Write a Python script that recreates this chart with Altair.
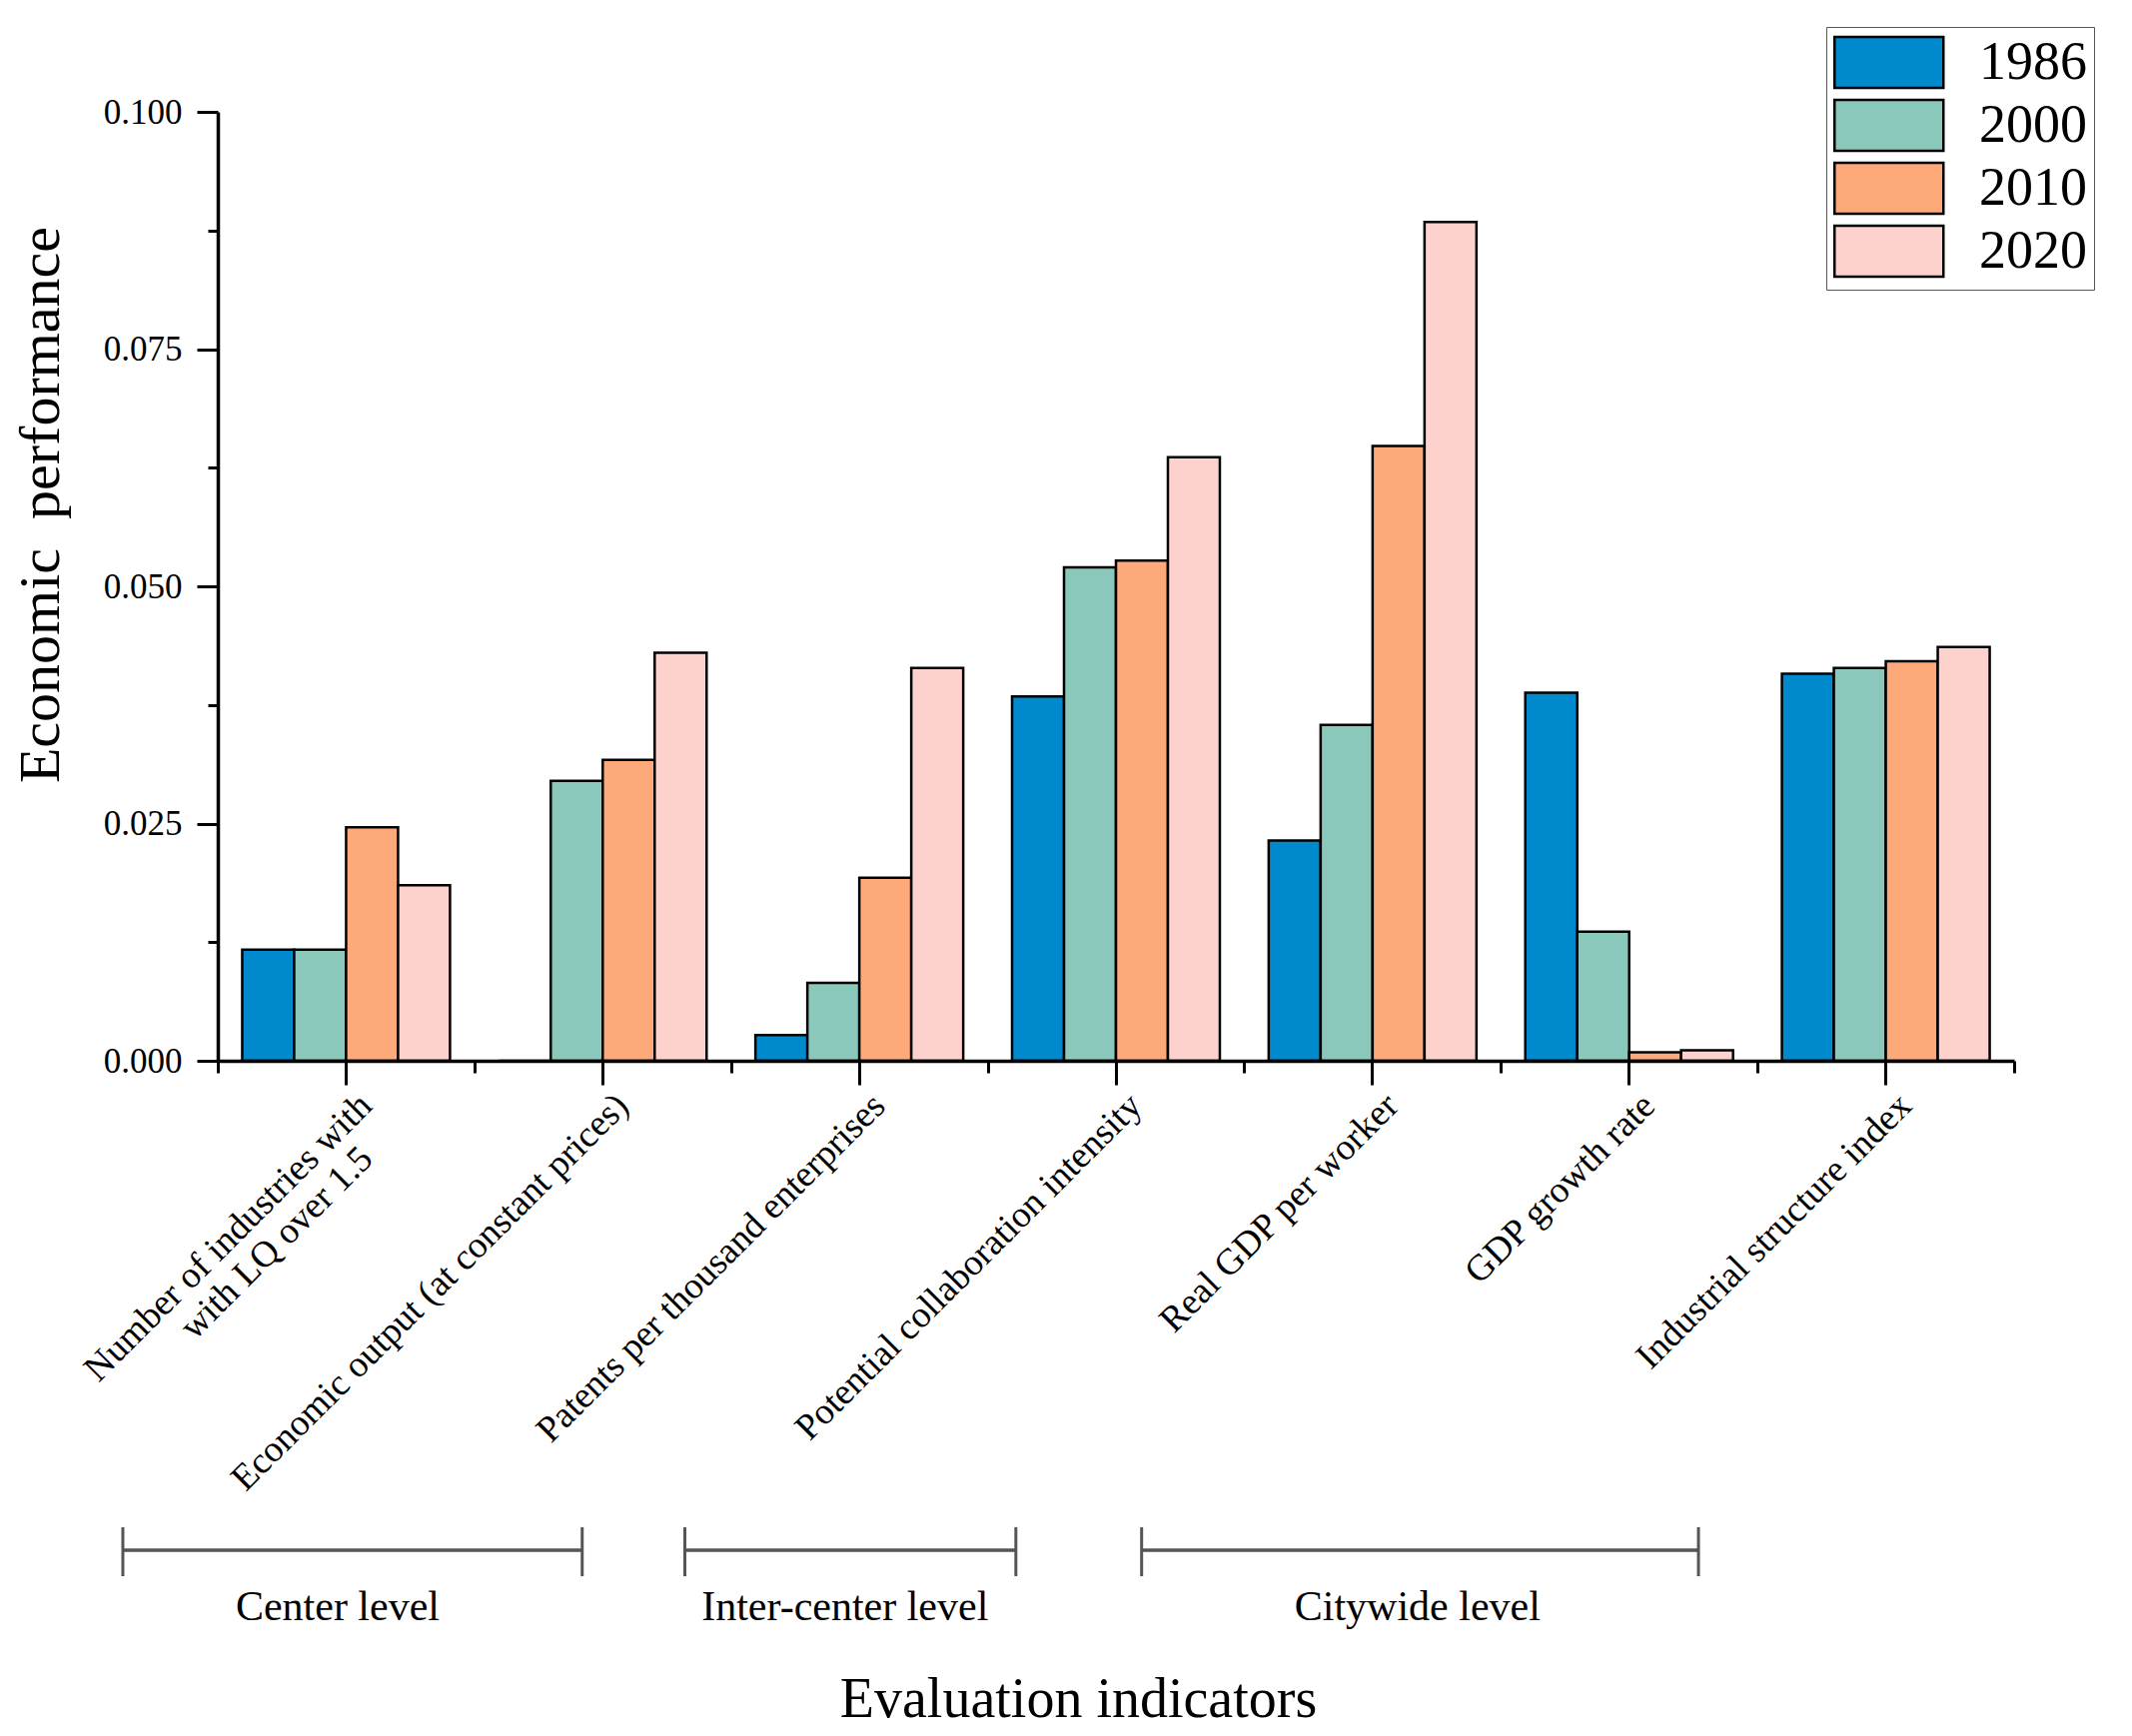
import altair as alt
import pandas as pd

# ---------------- data ----------------
categories = [
    "Number of industries with with LQ over 1.5",
    "Economic output (at constant prices)",
    "Patents per thousand enterprises",
    "Potential collaboration intensity",
    "Real GDP per worker",
    "GDP growth rate",
    "Industrial structure index",
]
years = ["1986", "2000", "2010", "2020"]
v1986 = [0.0117, 0.0000, 0.0027, 0.0384, 0.0232, 0.0388, 0.0408]
v2000 = [0.0117, 0.0295, 0.0082, 0.0520, 0.0354, 0.0136, 0.0414]
v2010 = [0.0246, 0.0317, 0.0193, 0.0527, 0.0648, 0.0009, 0.0421]
v2020 = [0.0185, 0.0430, 0.0414, 0.0636, 0.0884, 0.0011, 0.0436]
colors = ["#008ACD", "#8AC8BB", "#FDA979", "#FED2CC"]

y_major = [0.0, 0.025, 0.05, 0.075, 0.1]
y_minor = [0.0125, 0.0375, 0.0625, 0.0875]

# indicator groups (positions in category-band units)
group_names = ["Center level", "Inter-center level", "Citywide level"]
group_start = [-0.37, 1.82, 3.60]
group_end = [1.42, 3.11, 5.77]
group_mid = [0.467, 2.444, 4.675]

# ---------------- tables ----------------
series = {"1986": v1986, "2000": v2000, "2010": v2010, "2020": v2020}
rows = []
for yr in years:
    for c, v in zip(categories, series[yr]):
        rows.append({"category": c, "year": yr, "value": v})
df = pd.DataFrame(rows)

groups_df = pd.DataFrame({"group": group_names, "start": group_start,
                          "end": group_end, "mid": group_mid})
ends_df = pd.DataFrame({"pos": group_start + group_end})

FONT = "Liberation Serif"
NB = "\u00a0"
ZW = "\u200b"
label_expr = ("datum.label == '" + categories[0] + "' ? "
              "['Number of industries with', 'with LQ over 1.5" + NB * 4 + ZW + "'] : datum.label")

xscale = alt.Scale(domain=categories, paddingInner=0, paddingOuter=0)
yscale = alt.Scale(domain=[0, 0.1], nice=False, zero=True)
gscale = alt.Scale(domain=[0, 7], nice=False, zero=False)

major_x = alt.Axis(
    title="Evaluation indicators", titleFont=FONT, titleFontSize=56,
    titleFontWeight="normal", titleColor="black",
    titleX=861, titleY=656, titleAlign="center", titleBaseline="alphabetic",
    labelAngle=-45, labelAlign="right", labelBaseline="middle",
    labelFont=FONT, labelFontSize=37, labelColor="black",
    labelPadding=15, labelOffset=20,
    labelLimit=2000, labelOverlap=False,
    labelExpr=label_expr, labelLineHeight=38,
    tickSize=24, tickWidth=3, tickColor="black",
    domainColor="black", domainWidth=3.5, grid=False, zindex=1,
)
minor_x = alt.Axis(
    title=None, labels=False, domain=False, grid=False, orient="bottom",
    tickBand="extent", tickSize=12, tickWidth=3, tickColor="black",
)
major_y = alt.Axis(
    values=y_major, format=".3f", orient="left",
    title="Economic" + NB + " performance", titleFont=FONT, titleFontSize=58,
    titleFontWeight="normal", titleColor="black", titleAngle=-90,
    titleX=-160, titleY=393, titleAlign="center", titleBaseline="alphabetic",
    labelFont=FONT, labelFontSize=35, labelColor="black", labelPadding=15,
    tickSize=21, tickWidth=3, tickColor="black",
    domainColor="black", domainWidth=3.5, grid=False, zindex=1,
)
minor_y = alt.Axis(
    values=y_minor, labels=False, domain=False, grid=False, orient="left",
    title=None, tickSize=10, tickWidth=3, tickColor="black",
)

legend = alt.Legend(
    title=None, orient="none", legendX=1610, legendY=-85,
    symbolType="M-1,-0.94H3V0.94H-1Z", symbolSize=2970,
    symbolStrokeColor="black", symbolStrokeWidth=2.5, symbolOpacity=1,
    labelFont=FONT, labelFontSize=54, labelColor="black", labelOffset=89,
    rowPadding=0, padding=7, strokeColor="#555555", fillColor="white",
)

bars = alt.Chart(df).mark_bar(stroke="black", strokeWidth=2.5).encode(
    x=alt.X("category:N", sort=categories, scale=xscale, axis=major_x),
    xOffset=alt.XOffset("year:N", sort=years,
                        scale=alt.Scale(paddingInner=0, paddingOuter=0.47)),
    y=alt.Y("value:Q", scale=yscale, axis=major_y, stack=None),
    color=alt.Color("year:N", scale=alt.Scale(domain=years, range=colors),
                    legend=legend),
)

minor = alt.Chart(df).mark_bar(opacity=0).encode(
    x=alt.X("category:N", sort=categories, scale=xscale, axis=minor_x),
    y=alt.Y("value:Q", scale=yscale, axis=minor_y, stack=None),
)

hline = alt.Chart(groups_df).mark_rule(color="#555555", strokeWidth=3.5).encode(
    x=alt.X("start:Q", scale=gscale, axis=None),
    x2="end:Q",
    y=alt.YDatum(-0.05158, scale=yscale, axis=None),
)

vticks = alt.Chart(ends_df).mark_rule(color="#555555", strokeWidth=3).encode(
    x=alt.X("pos:Q", scale=gscale, axis=None),
    y=alt.YDatum(-0.04916, scale=yscale, axis=None),
    y2=alt.Y2Datum(-0.05432),
)

glabels = alt.Chart(groups_df).mark_text(
    font=FONT, fontSize=42, baseline="alphabetic", align="center", color="black"
).encode(
    x=alt.X("mid:Q", scale=gscale, axis=None),
    y=alt.YDatum(-0.05895, scale=yscale, axis=None),
    text="group:N",
)

chart = (
    alt.layer(bars, minor, hline, vticks, glabels)
    .resolve_scale(x="independent")
    .resolve_axis(x="independent", y="independent")
    .properties(
        width=1798, height=950,
        padding={"left": 210, "top": 104, "right": 110, "bottom": 672},
        autosize=alt.AutoSizeParams(type="none"),
        background="white",
    )
    .configure_view(stroke=None)
)

chart.save("out.html", embed_options={"renderer": "svg", "actions": False})
